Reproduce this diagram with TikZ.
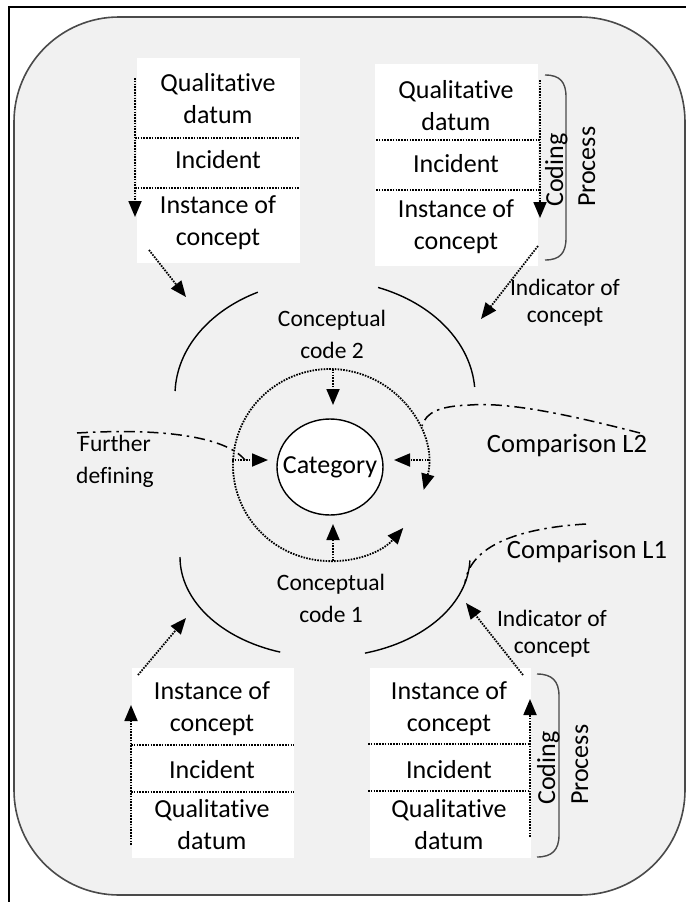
\documentclass[tikz,border=0pt]{standalone}
\usepackage{fontspec}
\setmainfont{Carlito}[Ligatures=NoCommon]
\usetikzlibrary{arrows.meta}
\definecolor{panel}{HTML}{F1F1F1}
\definecolor{rim}{HTML}{4A4A4A}
\begin{document}
\begin{tikzpicture}[x=1pt,y=-1pt,
  boxtxt/.style={font=\fontsize{26}{32}\selectfont,align=center,inner sep=0pt},
  lbl/.style={font=\fontsize{23.5}{32}\selectfont,align=center,inner sep=0pt},
  cmplbl/.style={font=\fontsize{26.5}{32}\selectfont,align=center,inner sep=0pt},
  lblind/.style={font=\fontsize{23.5}{27}\selectfont,align=center,inner sep=0pt},
  sidetxt/.style={font=\fontsize{26}{30}\selectfont,rotate=90,anchor=base west,inner sep=0pt},
  whitebox/.style={fill=white,draw=none},
  dotline/.style={line width=1.8pt,dash pattern=on 1.6pt off 1.2pt},
  tip/.style={-{Triangle[length=16pt,width=13pt]}},
  darrow/.style={dotline,tip},
  dashdot/.style={line width=1.5pt,dash pattern=on 11pt off 5pt on 2.5pt off 5pt},
  arcline/.style={line width=1.4pt},
  bracket/.style={line width=1.4pt,draw=rim}]

\useasboundingbox (0,0) rectangle (686,902);

% page frame and rounded panel
\draw[line width=1.2pt] (9,902) -- (9,7) -- (686,7);
\draw[fill=panel,draw=rim,line width=1.6pt,rounded corners=105pt] (14,17) rectangle (685,895);

% ---------- top-left column ----------
\fill[whitebox] (137,58) rectangle (300,263);
\node[boxtxt] (tlq) at (218,99) {Qualitative\\datum};
\node[boxtxt] (tli) at (218,160) {Incident};
\node[boxtxt] (tlc) at (218,223) {Instance of\\concept};
\coordinate (tls1) at (135,138); \coordinate (tle1) at (300,138);
\coordinate (tls2) at (135,188); \coordinate (tle2) at (300,188);
\draw[dotline] (tls1) -- (tle1);
\draw[dotline] (tls2) -- (tle2);
\coordinate (tla) at (135,78); \coordinate (tlb) at (135,217);
\draw[darrow] (tla) -- (tlb);

% ---------- top-right column ----------
\fill[whitebox] (375,64) rectangle (538,266);
\node[boxtxt] (trq) at (456,106) {Qualitative\\datum};
\node[boxtxt] (tri) at (456,164) {Incident};
\node[boxtxt] (trc) at (456,227) {Instance of\\concept};
\coordinate (trs1) at (376,140); \coordinate (tre1) at (540,140);
\coordinate (trs2) at (376,190); \coordinate (tre2) at (540,190);
\draw[dotline] (trs1) -- (tre1);
\draw[dotline] (trs2) -- (tre2);
\coordinate (tra) at (540,80); \coordinate (trb) at (540,218);
\draw[darrow] (tra) -- (trb);
\draw[bracket] (545,75) .. controls (560,75) and (566,82) .. (566,97) -- (566,238) .. controls (566,253) and (560,260) .. (545,260);
\node[sidetxt] (trcod) at (563,207) {Coding};
\node[sidetxt] (trpro) at (595,207) {Process};

% ---------- bottom-left column ----------
\fill[whitebox] (132,668) rectangle (294,858);
\node[boxtxt] (blc) at (212,709) {Instance of\\concept};
\node[boxtxt] (bli) at (212,770) {Incident};
\node[boxtxt] (blq) at (212,825) {Qualitative\\datum};
\coordinate (bls1) at (131,745); \coordinate (ble1) at (294,745);
\coordinate (bls2) at (131,792); \coordinate (ble2) at (294,792);
\draw[dotline] (bls1) -- (ble1);
\draw[dotline] (bls2) -- (ble2);
\coordinate (bla) at (131,845); \coordinate (blb) at (131,705);
\draw[darrow] (bla) -- (blb);

% ---------- bottom-right column ----------
\fill[whitebox] (370,668) rectangle (531,858);
\node[boxtxt] (brc) at (449,709) {Instance of\\concept};
\node[boxtxt] (bri) at (449,770) {Incident};
\node[boxtxt] (brq) at (449,825) {Qualitative\\datum};
\coordinate (brs1) at (368,744); \coordinate (bre1) at (530,744);
\coordinate (brs2) at (368,791); \coordinate (bre2) at (530,791);
\draw[dotline] (brs1) -- (bre1);
\draw[dotline] (brs2) -- (bre2);
\coordinate (bra) at (530,837); \coordinate (brb) at (530,699);
\draw[darrow] (bra) -- (brb);
\draw[bracket] (537,674) .. controls (552,674) and (559,681) .. (559,696) -- (559,835) .. controls (559,850) and (552,857) .. (537,857);
\node[sidetxt] (brcod) at (555,805) {Coding};
\node[sidetxt] (brpro) at (588,805) {Process};

% ---------- outer broken ring ----------
\draw[arcline] (325,395) ++(243.4:150 and 115) arc[start angle=243.4,end angle=182,x radius=150,y radius=115];
\draw[arcline] (325,395) ++(290.7:150 and 115) arc[start angle=290.7,end angle=356,x radius=150,y radius=115];
\draw[arcline] (325,557) ++(180:145 and 100) arc[start angle=180,end angle=108,x radius=145,y radius=100];
\draw[arcline] (325,557) ++(74:145 and 100) arc[start angle=74,end angle=2,x radius=145,y radius=100];

% ---------- inner dotted ring ----------
\draw[dotline,{Triangle[length=16pt,width=13pt]}-{Triangle[length=16pt,width=13pt]}]
  (330,465) ++(15:97 and 96) arc[start angle=15,end angle=-319,x radius=97,y radius=96];

% ---------- category ----------
\draw[line width=1.4pt,fill=white] (330,467) ellipse [x radius=53,y radius=48];
\node[font=\fontsize{26}{30}\selectfont,inner sep=0pt] (cat) at (330,467) {Category};

\coordinate (ctop) at (333,369); \coordinate (ctopt) at (333,405);
\coordinate (cbot) at (333,561); \coordinate (cbott) at (333,524);
\coordinate (clft) at (232,460); \coordinate (clftt) at (268,460);
\coordinate (crgt) at (429,460); \coordinate (crgtt) at (394,460);
\draw[darrow] (ctop) -- (ctopt);
\draw[darrow] (cbot) -- (cbott);
\draw[darrow] (clft) -- (clftt);
\draw[darrow] (crgt) -- (crgtt);

\node[lbl] (cc2) at (332,334) {Conceptual\\code 2};
\node[lbl] (cc1) at (331,598) {Conceptual\\code 1};

% ---------- indicator arrows ----------
\coordinate (i1s) at (149,250); \coordinate (i1e) at (186,297);
\coordinate (i2s) at (538,246); \coordinate (i2e) at (481,319);
\coordinate (i3s) at (138,675); \coordinate (i3e) at (186,618);
\coordinate (i4s) at (523,675); \coordinate (i4e) at (466,603);
\draw[darrow] (i1s) -- (i1e);
\draw[darrow] (i2s) -- (i2e);
\draw[darrow] (i3s) -- (i3e);
\draw[darrow] (i4s) -- (i4e);
\node[lblind] (ind2) at (565,303) {Indicator of\\concept};
\node[lblind] (ind1) at (552,634) {Indicator of\\concept};

% ---------- dash-dot comparison lines ----------
\coordinate (fds) at (77,433); \coordinate (fde) at (245,460);
\draw[dashdot] (fds) .. controls (160,428) and (225,436) .. (fde);
\node[lbl] (fd) at (115,461) {Further\\defining};

\coordinate (l2s) at (640,433); \coordinate (l2m) at (470,405); \coordinate (l2e) at (422,426);
\draw[dashdot] (l2s) .. controls (570,415) and (510,402) .. (l2m) .. controls (440,406) and (426,412) .. (l2e);
\node[cmplbl] (cl2) at (567,446) {Comparison L2};

\coordinate (l1s) at (586,524); \coordinate (l1e) at (465,583);
\draw[dashdot] (l1s) .. controls (520,528) and (470,545) .. (l1e);
\node[cmplbl] (cl1) at (587,552) {Comparison L1};

\end{tikzpicture}
\end{document}
